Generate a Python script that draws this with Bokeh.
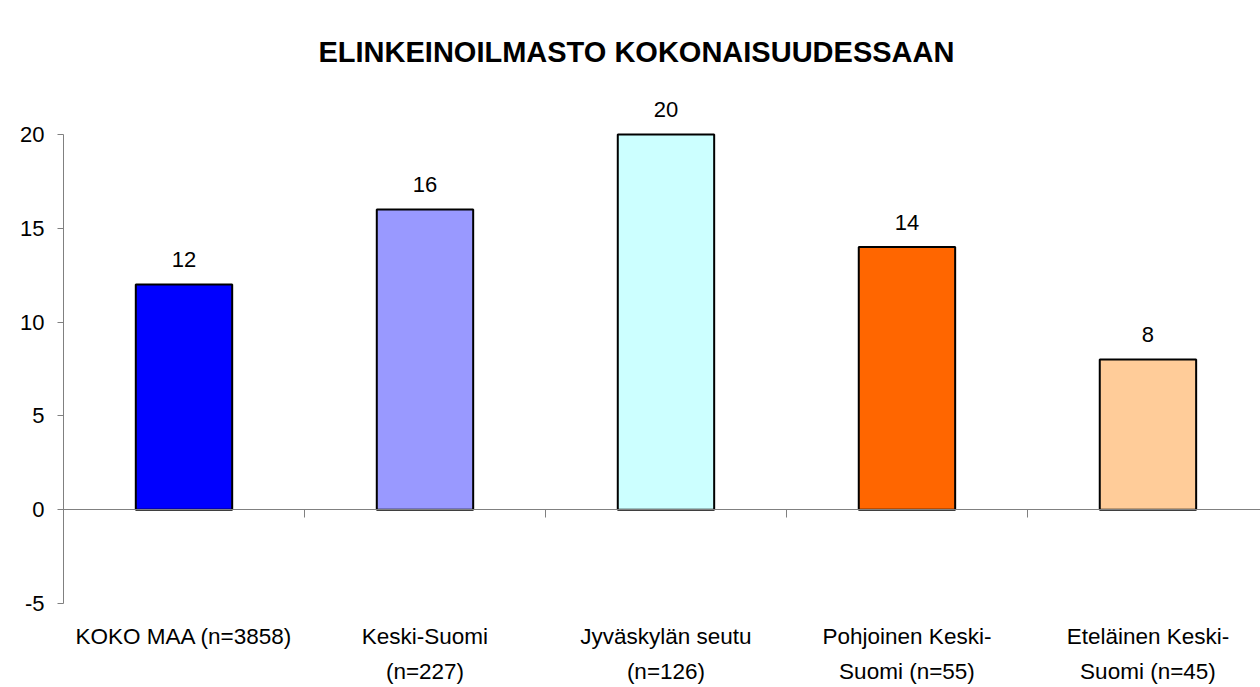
from bokeh.plotting import figure
from bokeh.models import Range1d, LinearAxis, FixedTicker, Title
from bokeh.core.properties import value
from bokeh.embed import file_html
from bokeh.resources import INLINE

categories = ["KOKO MAA (n=3858)", "Keski-Suomi\n(n=227)", "Jyväskylän seutu\n(n=126)",
              "Pohjoinen Keski-\nSuomi (n=55)", "Eteläinen Keski-\nSuomi (n=45)"]
values = [12, 16, 20, 14, 8]
colors = ["#0000FF", "#9999FF", "#CCFFFF", "#FF6600", "#FFCC99"]
y_ticks = [-5, 0, 5, 10, 15, 20]
title_text = "ELINKEINOILMASTO KOKONAISUUDESSAAN"

FONT = "Liberation Sans"
positions = [i + 0.5 for i in range(len(categories))]
boundaries = list(range(len(categories) + 1))

p = figure(width=1260, height=687, output_backend="svg", toolbar_location=None,
           x_range=Range1d(0, 4.967), y_range=Range1d(-9.478, 22.505),
           min_border_left=63, min_border_right=0, min_border_top=87, min_border_bottom=0,
           x_axis_type=None, y_axis_type=None)
p.outline_line_color = None
p.xgrid.visible = False
p.ygrid.visible = False
p.background_fill_color = "white"
p.border_fill_color = "white"

t = Title(text=title_text, align="left", text_font=FONT, text_font_size="29px",
          text_font_style="bold", text_color="black", standoff=40, offset=255)
p.add_layout(t, "above")

p.vbar(x=positions, top=values, bottom=0, width=0.4, fill_color=colors,
       line_color="black", line_width=2)

p.text(x=positions, y=values, text=[str(v) for v in values], text_align="center",
       text_baseline="alphabetic", y_offset=-25, text_font=value(FONT),
       text_font_size="22px", text_color="black")

# y axis
yax = LinearAxis(ticker=FixedTicker(ticks=y_ticks), bounds=(min(y_ticks), max(y_ticks)),
                 major_tick_out=6, major_tick_in=0,
                 minor_tick_line_color=None, axis_line_color="#808080",
                 major_tick_line_color="#808080", major_label_standoff=13,
                 major_label_overrides={v: str(v) for v in y_ticks},
                 major_label_text_font=FONT, major_label_text_font_size="22px",
                 major_label_text_color="black")
p.add_layout(yax, "left")

# zero axis with category boundary ticks
zax = LinearAxis(fixed_location=0, ticker=FixedTicker(ticks=boundaries), major_tick_out=8,
                 major_tick_in=0, minor_tick_line_color=None, axis_line_color="#808080",
                 major_tick_line_color="#808080", major_label_text_color=None)
p.add_layout(zax, "below")

# category labels axis, placed under the bottom of the value scale
cax = LinearAxis(fixed_location=min(y_ticks), ticker=FixedTicker(ticks=positions),
                 major_label_overrides={pos: c for pos, c in zip(positions, categories)},
                 axis_line_color=None, major_tick_line_color=None, minor_tick_line_color=None,
                 major_label_standoff=15, major_label_text_font=FONT,
                 major_label_text_font_size="22.5px", major_label_text_color="black",
                 major_label_text_line_height=1.38)
p.add_layout(cax, "below")

open("out.html", "w").write(file_html(p, INLINE))
